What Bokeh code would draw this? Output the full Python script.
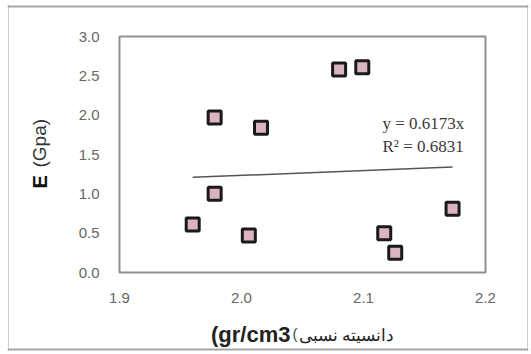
import math
from bokeh.plotting import figure
from bokeh.models import Label, FixedTicker, NumeralTickFormatter, Range1d
from bokeh.embed import file_html
from bokeh.resources import INLINE

# relative density (gr/cm3) and modulus E (Gpa)
density = [1.960, 1.978, 1.978, 2.006, 2.016, 2.080, 2.099, 2.117, 2.126, 2.173]
modulus = [0.61, 1.00, 1.97, 0.47, 1.84, 2.58, 2.61, 0.50, 0.25, 0.81]
slope = 0.6173
r_squared = 0.6831
x_ticks = [1.9, 2.0, 2.1, 2.2]
y_ticks = [0.0, 0.5, 1.0, 1.5, 2.0, 2.5, 3.0]

p = figure(width=531, height=354, output_backend="svg", toolbar_location=None,
           x_range=Range1d(1.9, 2.2), y_range=Range1d(0, 3.0),
           min_border_left=119, min_border_right=46, min_border_top=36, min_border_bottom=82)
p.background_fill_color = "white"
p.border_fill_color = "white"
p.grid.visible = False
p.outline_line_color = "#8f8f8f"
p.outline_line_width = 2

for ax in (p.xaxis[0], p.yaxis[0]):
    ax.axis_line_color = None
    ax.major_tick_line_color = None
    ax.minor_tick_line_color = None
    ax.major_label_text_font = "Liberation Sans"
    ax.major_label_text_font_size = "15px"
    ax.major_label_text_color = "#666666"
    ax.major_label_standoff = 14
p.xaxis.ticker = FixedTicker(ticks=x_ticks)
p.yaxis.ticker = FixedTicker(ticks=y_ticks)
p.xaxis.formatter = NumeralTickFormatter(format="0.0")
p.yaxis.formatter = NumeralTickFormatter(format="0.0")

# linear trend through the origin, drawn over the span of the data
xs = [min(density), max(density)]
p.line(xs, [slope * v for v in xs], line_color="#555555", line_width=1.5)

p.scatter(density, modulus, marker="square", size=13, line_width=3,
          line_color="#1a1a1a", fill_color="#dbb4c3")

eq_style = dict(x_units="canvas", y_units="canvas", text_font="Liberation Serif",
                text_font_size="17px", text_color="#3a3a3a", text_align="left",
                text_baseline="middle")
p.add_layout(Label(x=382, y=123, text=f"y = {slope}x", **eq_style))
p.add_layout(Label(x=382, y=146, text=f"R² = {r_squared}", **eq_style))


def put(side, px, py, text, **kw):
    """Text in a side panel, placed at a page pixel position."""
    p.add_layout(Label(x=px, y=py, x_units="canvas", y_units="canvas", text=text, **kw), side)


# y axis title
put("left", 39, 188, "E", angle=math.pi / 2, text_font="Liberation Sans",
    text_font_style="bold", text_font_size="20px", text_color="#111111",
    text_align="left", text_baseline="middle")
put("left", 39, 167, "(Gpa)", angle=math.pi / 2, text_font="Liberation Sans",
    text_font_size="19px", text_color="#333333", text_align="left", text_baseline="middle")

# x axis title
put("above", 290, 334, "(gr/cm3", text_font="Liberation Sans", text_font_style="bold",
    text_font_size="22px", text_color="#222222", text_align="right", text_baseline="alphabetic")
put("right", 292, 333, "(", text_font="Liberation Sans", text_font_size="15px",
    text_color="#444444", text_align="left", text_baseline="alphabetic")
put("below", 298, 334, "دانسیته نسبی", text_font="Noto Sans", text_font_size="17px",
    text_color="#222222", text_align="left", text_baseline="alphabetic")


# thin gray frame around the whole chart, one bar per edge
def edge(side, cx, cy, half_w, half_h):
    put(side, cx, cy, " ", text_font_size="2px", text_align="center", text_baseline="middle",
        padding=dict(left=half_w, right=half_w, top=half_h, bottom=half_h),
        background_fill_color="#a6a6a6", border_line_color=None)


edge("above", 267.5, 6, 260, 0)
edge("above", 267.5, 349, 260, 0)
edge("left", 8, 177.5, 0, 172)
edge("right", 527, 177.5, 0, 172)

open("out.html", "w").write(file_html(p, INLINE))
